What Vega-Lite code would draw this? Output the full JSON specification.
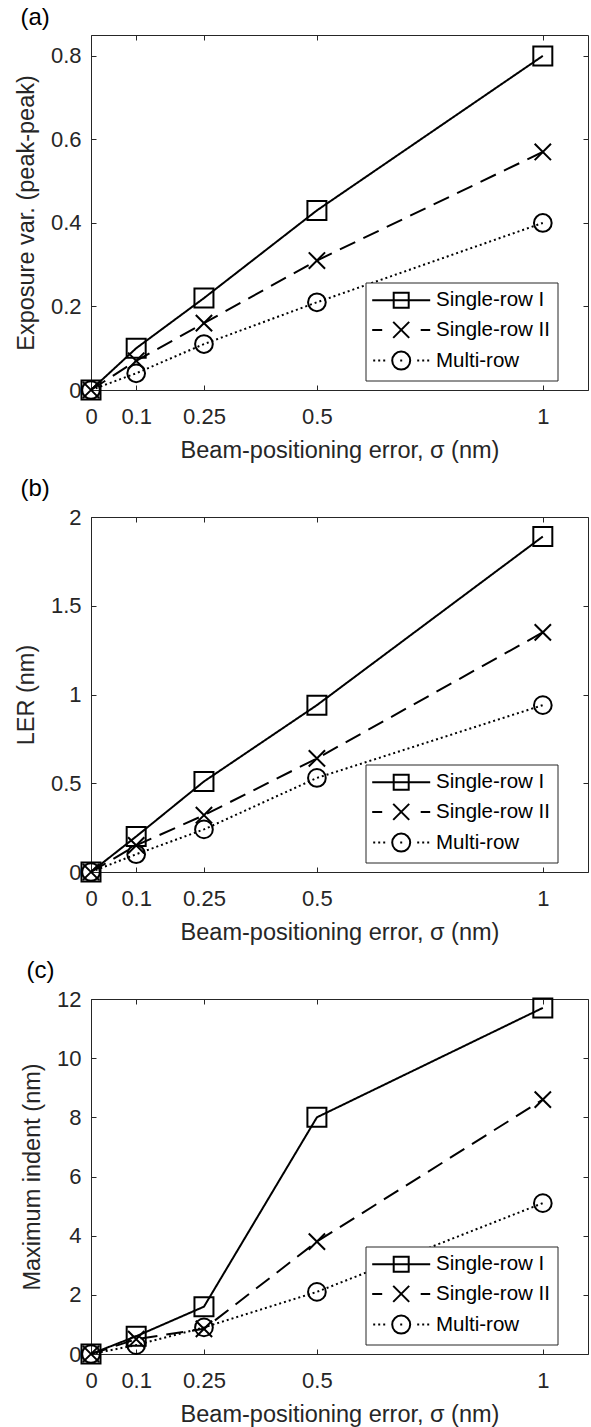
{
  "$schema": "https://vega.github.io/schema/vega-lite/v6.json",
  "padding": {"top": 5, "left": 13, "right": 0, "bottom": 0},
  "background": "white",
  "config": {
    "font": "Liberation Sans",
    "view": {"stroke": "#262626", "strokeWidth": 1},
    "axis": {
      "grid": false, "domain": false, "tickSize": -5, "tickColor": "#262626", "tickWidth": 1,
      "labelFont": "Liberation Sans", "labelFontSize": 22, "labelColor": "#262626",
      "titleFont": "Liberation Sans", "titleFontSize": 23.5, "titleFontWeight": "normal", "titleColor": "#262626",
      "labelFlush": false, "labelOverlap": false, "format": ".2~f"
    },
    "title": {"font": "Liberation Sans", "fontSize": 24, "fontWeight": "normal", "color": "black", "anchor": "start", "frame": "bounds", "baseline": "alphabetic", "offset": 5},
    "legend": {
      "direction": "vertical",
      "padding": 6.7, "rowPadding": 5.7, "strokeColor": "#262626", "fillColor": "white",
      "labelFont": "Liberation Sans", "labelFontSize": 20.5, "labelColor": "black",
      "labelOffset": 23.8, "symbolOffset": 18, "symbolSize": 400, "symbolStrokeWidth": 2,
      "symbolStrokeColor": "black", "symbolFillColor": "transparent", "symbolOpacity": 1
    }
  },
  "vconcat": [
    {
      "width": 497, "height": 355,
      "title": {"text": "(a)", "dx": 6},
      "data": {"values": [
        {"series": "Single-row I", "sigma": 0, "value": 0},
        {"series": "Single-row I", "sigma": 0.1, "value": 0.10},
        {"series": "Single-row I", "sigma": 0.25, "value": 0.22},
        {"series": "Single-row I", "sigma": 0.5, "value": 0.43},
        {"series": "Single-row I", "sigma": 1, "value": 0.80},
        {"series": "Single-row II", "sigma": 0, "value": 0},
        {"series": "Single-row II", "sigma": 0.1, "value": 0.07},
        {"series": "Single-row II", "sigma": 0.25, "value": 0.16},
        {"series": "Single-row II", "sigma": 0.5, "value": 0.31},
        {"series": "Single-row II", "sigma": 1, "value": 0.57},
        {"series": "Multi-row", "sigma": 0, "value": 0},
        {"series": "Multi-row", "sigma": 0.1, "value": 0.04},
        {"series": "Multi-row", "sigma": 0.25, "value": 0.11},
        {"series": "Multi-row", "sigma": 0.5, "value": 0.21},
        {"series": "Multi-row", "sigma": 1, "value": 0.40}
      ]},
      "layer": [
        {
          "mark": {"type": "line", "strokeWidth": 2, "color": "black"},
          "encoding": {
            "x": {"field": "sigma", "type": "quantitative", "scale": {"domain": [0, 1.1], "nice": false, "zero": false},
                  "axis": {"orient": "bottom", "values": [0, 0.1, 0.25, 0.5, 1], "labelBaseline": "alphabetic", "labelPadding": 38, "titlePadding": 11.5, "title": "Beam-positioning error, σ (nm)"}},
            "y": {"field": "value", "type": "quantitative", "scale": {"domain": [0, 0.85], "nice": false, "zero": false},
                  "axis": {"orient": "left", "values": [0, 0.2, 0.4, 0.6, 0.8], "labelPadding": 15, "titlePadding": 12, "title": "Exposure var. (peak-peak)"}},
            "strokeDash": {"field": "series", "type": "nominal", "scale": {"domain": ["Multi-row", "Single-row I", "Single-row II"], "range": [[2, 3], [1, 0], [17, 9]]}, "legend": null}
          }
        },
        {
          "mark": {"type": "point", "filled": false, "strokeWidth": 2, "color": "black", "opacity": 1},
          "encoding": {
            "x": {"field": "sigma", "type": "quantitative", "axis": {"orient": "top", "values": [0, 0.1, 0.25, 0.5, 1], "labels": false, "title": null}},
            "y": {"field": "value", "type": "quantitative", "axis": {"orient": "right", "values": [0, 0.2, 0.4, 0.6, 0.8], "labels": false, "title": null}},
            "shape": {"field": "series", "type": "nominal", "scale": {"domain": ["Single-row I", "Single-row II", "Multi-row"], "range": ["square", "M-1,-1L1,1M-1,1L1,-1", "circle"]}, "legend": null},
            "size": {"field": "series", "type": "nominal", "scale": {"domain": ["Single-row II", "Multi-row", "Single-row I"], "range": [266, 361, 243]}, "legend": null}
          }
        },
        {
          "mark": {"type": "point", "filled": false, "strokeWidth": 2, "color": "black", "opacity": 0},
          "encoding": {
            "x": {"field": "sigma", "type": "quantitative", "axis": null},
            "y": {"field": "value", "type": "quantitative", "axis": null},
            "shape": {"field": "series", "type": "nominal",
                      "scale": {"domain": ["Single-row I", "Single-row II", "Multi-row"], "range": ["M-2.9,0H2.9M-0.75,-0.75H0.75V0.75H-0.75Z", "M-2.9,0H-1.9M1.95,0H2.9M-0.8,-0.8L0.8,0.8M-0.8,0.8L0.8,-0.8", "M-2.8,0h0.2M-2.3,0h0.2M-1.8,0h0.2M-0.1,0h0.2M1.6,0h0.2M2.1,0h0.2M2.6,0h0.2M0.9,0A0.9,0.9,0,1,1,-0.9,0A0.9,0.9,0,1,1,0.9,0"]},
                      "legend": {"orient": "none", "legendX": 274.5, "legendY": 247.5, "title": null, "symbolOpacity": 1, "symbolSize": 400}}
          }
        }
      ],
      "resolve": {"axis": {"x": "independent", "y": "independent"}, "scale": {"shape": "independent"}, "legend": {"shape": "independent"}}
    },
    {
      "width": 497, "height": 355,
      "title": {"text": "(b)", "dx": 6},
      "data": {"values": [
        {"series": "Single-row I", "sigma": 0, "value": 0},
        {"series": "Single-row I", "sigma": 0.1, "value": 0.20},
        {"series": "Single-row I", "sigma": 0.25, "value": 0.51},
        {"series": "Single-row I", "sigma": 0.5, "value": 0.94},
        {"series": "Single-row I", "sigma": 1, "value": 1.89},
        {"series": "Single-row II", "sigma": 0, "value": 0},
        {"series": "Single-row II", "sigma": 0.1, "value": 0.15},
        {"series": "Single-row II", "sigma": 0.25, "value": 0.32},
        {"series": "Single-row II", "sigma": 0.5, "value": 0.64},
        {"series": "Single-row II", "sigma": 1, "value": 1.35},
        {"series": "Multi-row", "sigma": 0, "value": 0},
        {"series": "Multi-row", "sigma": 0.1, "value": 0.10},
        {"series": "Multi-row", "sigma": 0.25, "value": 0.24},
        {"series": "Multi-row", "sigma": 0.5, "value": 0.53},
        {"series": "Multi-row", "sigma": 1, "value": 0.94}
      ]},
      "layer": [
        {
          "mark": {"type": "line", "strokeWidth": 2, "color": "black"},
          "encoding": {
            "x": {"field": "sigma", "type": "quantitative", "scale": {"domain": [0, 1.1], "nice": false, "zero": false},
                  "axis": {"orient": "bottom", "values": [0, 0.1, 0.25, 0.5, 1], "labelBaseline": "alphabetic", "labelPadding": 38, "titlePadding": 11.5, "title": "Beam-positioning error, σ (nm)"}},
            "y": {"field": "value", "type": "quantitative", "scale": {"domain": [0, 2], "nice": false, "zero": false},
                  "axis": {"orient": "left", "values": [0, 0.5, 1, 1.5, 2], "labelPadding": 15, "titlePadding": 12, "title": "LER (nm)"}},
            "strokeDash": {"field": "series", "type": "nominal", "scale": {"domain": ["Multi-row", "Single-row I", "Single-row II"], "range": [[2, 3], [1, 0], [17, 9]]}, "legend": null}
          }
        },
        {
          "mark": {"type": "point", "filled": false, "strokeWidth": 2, "color": "black", "opacity": 1},
          "encoding": {
            "x": {"field": "sigma", "type": "quantitative", "axis": {"orient": "top", "values": [0, 0.1, 0.25, 0.5, 1], "labels": false, "title": null}},
            "y": {"field": "value", "type": "quantitative", "axis": {"orient": "right", "values": [0, 0.5, 1, 1.5, 2], "labels": false, "title": null}},
            "shape": {"field": "series", "type": "nominal", "scale": {"domain": ["Single-row I", "Single-row II", "Multi-row"], "range": ["square", "M-1,-1L1,1M-1,1L1,-1", "circle"]}, "legend": null},
            "size": {"field": "series", "type": "nominal", "scale": {"domain": ["Single-row II", "Multi-row", "Single-row I"], "range": [266, 361, 243]}, "legend": null}
          }
        },
        {
          "mark": {"type": "point", "filled": false, "strokeWidth": 2, "color": "black", "opacity": 0},
          "encoding": {
            "x": {"field": "sigma", "type": "quantitative", "axis": null},
            "y": {"field": "value", "type": "quantitative", "axis": null},
            "shape": {"field": "series", "type": "nominal",
                      "scale": {"domain": ["Single-row I", "Single-row II", "Multi-row"], "range": ["M-2.9,0H2.9M-0.75,-0.75H0.75V0.75H-0.75Z", "M-2.9,0H-1.9M1.95,0H2.9M-0.8,-0.8L0.8,0.8M-0.8,0.8L0.8,-0.8", "M-2.8,0h0.2M-2.3,0h0.2M-1.8,0h0.2M-0.1,0h0.2M1.6,0h0.2M2.1,0h0.2M2.6,0h0.2M0.9,0A0.9,0.9,0,1,1,-0.9,0A0.9,0.9,0,1,1,0.9,0"]},
                      "legend": {"orient": "none", "legendX": 274.5, "legendY": 247.5, "title": null, "symbolOpacity": 1, "symbolSize": 400}}
          }
        }
      ],
      "resolve": {"axis": {"x": "independent", "y": "independent"}, "scale": {"shape": "independent"}, "legend": {"shape": "independent"}}
    },
    {
      "width": 497, "height": 355,
      "title": {"text": "(c)", "dx": 6},
      "data": {"values": [
        {"series": "Single-row I", "sigma": 0, "value": 0},
        {"series": "Single-row I", "sigma": 0.1, "value": 0.6},
        {"series": "Single-row I", "sigma": 0.25, "value": 1.6},
        {"series": "Single-row I", "sigma": 0.5, "value": 8.0},
        {"series": "Single-row I", "sigma": 1, "value": 11.7},
        {"series": "Single-row II", "sigma": 0, "value": 0},
        {"series": "Single-row II", "sigma": 0.1, "value": 0.5},
        {"series": "Single-row II", "sigma": 0.25, "value": 0.85},
        {"series": "Single-row II", "sigma": 0.5, "value": 3.8},
        {"series": "Single-row II", "sigma": 1, "value": 8.6},
        {"series": "Multi-row", "sigma": 0, "value": 0},
        {"series": "Multi-row", "sigma": 0.1, "value": 0.3},
        {"series": "Multi-row", "sigma": 0.25, "value": 0.9},
        {"series": "Multi-row", "sigma": 0.5, "value": 2.1},
        {"series": "Multi-row", "sigma": 1, "value": 5.1}
      ]},
      "layer": [
        {
          "mark": {"type": "line", "strokeWidth": 2, "color": "black"},
          "encoding": {
            "x": {"field": "sigma", "type": "quantitative", "scale": {"domain": [0, 1.1], "nice": false, "zero": false},
                  "axis": {"orient": "bottom", "values": [0, 0.1, 0.25, 0.5, 1], "labelBaseline": "alphabetic", "labelPadding": 38, "titlePadding": 11.5, "title": "Beam-positioning error, σ (nm)"}},
            "y": {"field": "value", "type": "quantitative", "scale": {"domain": [0, 12], "nice": false, "zero": false},
                  "axis": {"orient": "left", "values": [0, 2, 4, 6, 8, 10, 12], "labelPadding": 15, "titlePadding": 12, "title": "Maximum indent (nm)"}},
            "strokeDash": {"field": "series", "type": "nominal", "scale": {"domain": ["Multi-row", "Single-row I", "Single-row II"], "range": [[2, 3], [1, 0], [17, 9]]}, "legend": null}
          }
        },
        {
          "mark": {"type": "point", "filled": false, "strokeWidth": 2, "color": "black", "opacity": 1},
          "encoding": {
            "x": {"field": "sigma", "type": "quantitative", "axis": {"orient": "top", "values": [0, 0.1, 0.25, 0.5, 1], "labels": false, "title": null}},
            "y": {"field": "value", "type": "quantitative", "axis": {"orient": "right", "values": [0, 2, 4, 6, 8, 10, 12], "labels": false, "title": null}},
            "shape": {"field": "series", "type": "nominal", "scale": {"domain": ["Single-row I", "Single-row II", "Multi-row"], "range": ["square", "M-1,-1L1,1M-1,1L1,-1", "circle"]}, "legend": null},
            "size": {"field": "series", "type": "nominal", "scale": {"domain": ["Single-row II", "Multi-row", "Single-row I"], "range": [266, 361, 243]}, "legend": null}
          }
        },
        {
          "mark": {"type": "point", "filled": false, "strokeWidth": 2, "color": "black", "opacity": 0},
          "encoding": {
            "x": {"field": "sigma", "type": "quantitative", "axis": null},
            "y": {"field": "value", "type": "quantitative", "axis": null},
            "shape": {"field": "series", "type": "nominal",
                      "scale": {"domain": ["Single-row I", "Single-row II", "Multi-row"], "range": ["M-2.9,0H2.9M-0.75,-0.75H0.75V0.75H-0.75Z", "M-2.9,0H-1.9M1.95,0H2.9M-0.8,-0.8L0.8,0.8M-0.8,0.8L0.8,-0.8", "M-2.8,0h0.2M-2.3,0h0.2M-1.8,0h0.2M-0.1,0h0.2M1.6,0h0.2M2.1,0h0.2M2.6,0h0.2M0.9,0A0.9,0.9,0,1,1,-0.9,0A0.9,0.9,0,1,1,0.9,0"]},
                      "legend": {"orient": "none", "legendX": 274.5, "legendY": 247.5, "title": null, "symbolOpacity": 1, "symbolSize": 400}}
          }
        }
      ],
      "resolve": {"axis": {"x": "independent", "y": "independent"}, "scale": {"shape": "independent"}, "legend": {"shape": "independent"}}
    }
  ],
  "bounds": "flush",
  "spacing": 127,
  "resolve": {"scale": {"x": "independent", "y": "independent", "shape": "independent", "strokeDash": "independent", "size": "independent"}, "legend": {"shape": "independent", "strokeDash": "independent", "size": "independent"}}
}
